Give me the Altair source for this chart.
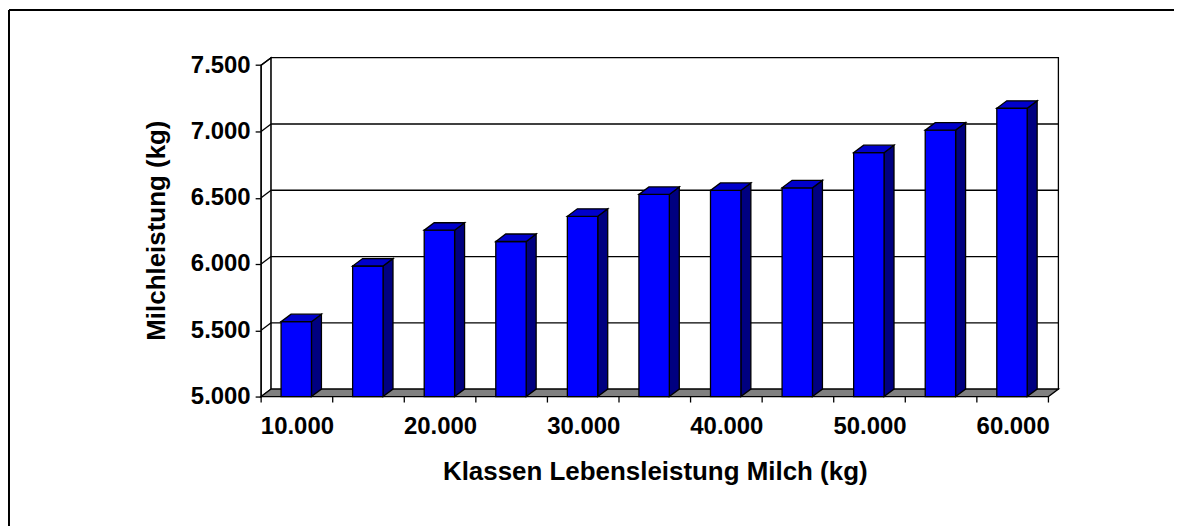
import altair as alt
import pandas as pd

# ---- data ----
klassen = [10000, 15000, 20000, 25000, 30000, 35000, 40000, 45000, 50000, 55000, 60000]
milch = [5565, 5985, 6255, 6170, 6360, 6525, 6555, 6575, 6840, 7010, 7175]
y_ticks = [5000, 5500, 6000, 6500, 7000, 7500]
x_title = "Klassen Lebensleistung Milch (kg)"
y_title = "Milchleistung (kg)"

# ---- geometry / style constants ----
n = len(klassen)
Y0, Y1 = y_ticks[0], y_ticks[-1]
PLOT_W, PLOT_H = 800, 340
DEPTH_X_PX, DEPTH_Y_PX = 10, 7.5
PX_PER_CAT = (PLOT_W - DEPTH_X_PX) / n
FRONT_H = PLOT_H - DEPTH_Y_PX
KG_PER_PX = (Y1 - Y0) / FRONT_H
dx = DEPTH_X_PX / PX_PER_CAT
dy = DEPTH_Y_PX * KG_PER_PX
bo = 20 / PX_PER_CAT
bw = 30.5 / PX_PER_CAT
x_max = n + dx
y_max = Y0 + PLOT_H * KG_PER_PX

FONT = "Liberation Sans"
SW = 1.3

xs = alt.Scale(domain=[0, x_max], nice=False, zero=False)
ys = alt.Scale(domain=[Y0, y_max], nice=False, zero=False)

x_label_vals = [i + 0.5 for i in range(0, n, 2)]
label_list = "[" + ",".join("'" + f"{k:,}".replace(",", ".") + "'" for k in klassen) + "]"

X_AXIS = alt.Axis(
    values=x_label_vals, ticks=False, tickSize=0, domain=False, grid=False,
    labelExpr=f"{label_list}[floor(datum.value)]",
    labelFont=FONT, labelFontSize=24, labelFontWeight="bold", labelColor="black",
    labelPadding=18, labelAngle=0,
    title=x_title, titleFont=FONT, titleFontSize=26, titleFontWeight="bold",
    titleColor="black", titleX=(PLOT_W - DEPTH_X_PX) / 2, titleY=75,
    titleAlign="center", titleBaseline="middle", titleAnchor="middle",
)
Y_AXIS = alt.Axis(
    values=y_ticks, ticks=True, tickSize=6, tickColor="black", tickWidth=SW,
    domain=False, grid=False,
    labelExpr="replace(format(datum.value, ','), ',', '.')",
    labelFont=FONT, labelFontSize=24, labelFontWeight="bold", labelColor="black",
    labelPadding=5,
    title=y_title, titleFont=FONT, titleFontSize=26, titleFontWeight="bold",
    titleColor="black", titleAngle=270, titleX=-105, titleY=173,
    titleAlign="center", titleBaseline="middle",
)


def X(f="x"):
    return alt.X(f"{f}:Q", scale=xs, axis=X_AXIS)


def Yc(f="y"):
    return alt.Y(f"{f}:Q", scale=ys, axis=Y_AXIS, stack=None)


# ---- walls and floor ----
left_wall = pd.DataFrame({"x": [0, dx], "y": [Y0, Y0 + dy], "y2": [Y1, Y1 + dy]})
back_wall = pd.DataFrame({"x": [dx], "x2": [n + dx], "y": [Y0 + dy], "y2": [Y1 + dy]})
floor = pd.DataFrame({
    "x": [0, dx, n, n + dx],
    "y": [Y0, Y0, Y0, Y0 + dy],
    "y2": [Y0, Y0 + dy, Y0 + dy, Y0 + dy],
})
grid_back = pd.DataFrame({"y": [v + dy for v in y_ticks[1:-1]], "x": dx, "x2": n + dx})
grid_side = pd.DataFrame({"x": 0.0, "x2": dx, "y": y_ticks[1:], "y2": [v + dy for v in y_ticks[1:]]})
front_axis = pd.DataFrame({"x": [0.0], "y": [Y0], "y2": [Y1]})
x_bounds = pd.DataFrame({"x": list(range(n + 1))})

lw = alt.Chart(left_wall).mark_area(fill="white", stroke="black", strokeWidth=SW).encode(
    x=X(), y=Yc(), y2="y2:Q")
bw_ = alt.Chart(back_wall).mark_rect(fill="white", stroke="black", strokeWidth=SW).encode(
    x=X(), x2="x2:Q", y=Yc(), y2="y2:Q")
fl = alt.Chart(floor).mark_area(fill="#808080", stroke="black", strokeWidth=SW).encode(
    x=X(), y=Yc(), y2="y2:Q")
gb = alt.Chart(grid_back).mark_rule(color="black", strokeWidth=SW).encode(
    x=X(), x2="x2:Q", y=Yc())
gs = alt.Chart(grid_side).mark_rule(color="black", strokeWidth=SW).encode(
    x=X(), x2="x2:Q", y=Yc(), y2="y2:Q")
fa = alt.Chart(front_axis).mark_rule(color="black", strokeWidth=SW).encode(
    x=X(), y=Yc(), y2="y2:Q")
xt = alt.Chart(x_bounds).mark_rule(color="black", strokeWidth=SW).encode(
    x=X(), y=alt.value(PLOT_H), y2=alt.value(PLOT_H + 6))

# ---- bars ----
front_rows, side_rows, top_rows = [], [], []
for i, v in enumerate(milch):
    x0 = i + bo
    x1 = x0 + bw
    front_rows.append({"id": i, "x": x0, "x2": x1, "y": Y0, "y2": v})
    side_rows += [
        {"id": i, "x": x1, "y": Y0, "y2": v},
        {"id": i, "x": x1 + dx, "y": Y0 + dy, "y2": v + dy},
    ]
    top_rows += [
        {"id": i, "x": x0, "y": v, "y2": v},
        {"id": i, "x": x0 + dx, "y": v, "y2": v + dy},
        {"id": i, "x": x1, "y": v, "y2": v + dy},
        {"id": i, "x": x1 + dx, "y": v + dy, "y2": v + dy},
    ]

side = alt.Chart(pd.DataFrame(side_rows)).mark_area(
    fill="#000080", stroke="black", strokeWidth=SW).encode(
    x=X(), y=Yc(), y2="y2:Q", detail="id:N")
top = alt.Chart(pd.DataFrame(top_rows)).mark_area(
    fill="#0000CC", stroke="black", strokeWidth=SW).encode(
    x=X(), y=Yc(), y2="y2:Q", detail="id:N")
front = alt.Chart(pd.DataFrame(front_rows)).mark_rect(
    fill="#0000FF", stroke="black", strokeWidth=SW).encode(
    x=X(), x2="x2:Q", y=Yc(), y2="y2:Q")

# ---- outer frame (decoration) ----
frame_left = alt.Chart(front_axis).mark_rule(color="black", strokeWidth=2).encode(
    x=alt.value(-253), y=alt.value(-48), y2=alt.value(PLOT_H + 300))
frame_top = alt.Chart(front_axis).mark_rule(color="black", strokeWidth=2).encode(
    x=alt.value(-253), x2=alt.value(PLOT_W + 300), y=alt.value(-48))

chart = alt.layer(
    lw, frame_left, frame_top, bw_, gb, gs, fl, fa, xt, side, front, top
).properties(
    width=PLOT_W, height=PLOT_H,
    autosize=alt.AutoSizeParams(type="none"),
    padding={"left": 254, "top": 49, "right": 116, "bottom": 129},
    background="white",
).configure_view(stroke=None).configure_axis(grid=False)

chart.save("out.html", embed_options={"renderer": "svg", "actions": False})
